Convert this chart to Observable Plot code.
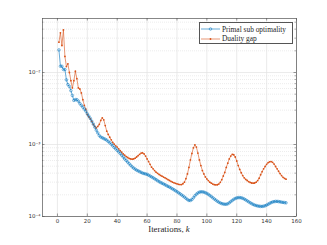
<!DOCTYPE html>
<html>
<head>
<meta charset="utf-8">
<script src="https://cdn.jsdelivr.net/npm/d3@7"></script>
<script src="https://cdn.jsdelivr.net/npm/@observablehq/plot@0.6"></script>
<style>
  body { margin: 0; background: white; }
  #wrap { position: relative; width: 327px; height: 245px; overflow: hidden; }
  #legend { position: absolute; left: 199px; top: 22px; width: 94px; height: 22px; background: white;
            border: 0.6px solid #555; box-sizing: border-box; font-family: "Liberation Serif", "DejaVu Serif", serif;
            font-size: 7.4px; color: #262626; }
  .row { position: absolute; left: 1px; height: 8px; display: flex; align-items: center; white-space: nowrap; }
  .row svg { display: block; margin-right: 2px; }
  #xlabel { position: absolute; left: 0; width: 338px; top: 224px; text-align: center;
            font-family: "Liberation Serif", "DejaVu Serif", serif; font-size: 8.8px; color: #262626; }
</style>
</head>
<body>
<div id="wrap">
  <div id="chart"></div>
  <div id="legend">
    <div class="row" style="top:2px"><svg width="19" height="8"><line x1="0" y1="4" x2="19" y2="4" stroke="#0072BD" stroke-width="0.6"/><circle cx="9.5" cy="4" r="1.3" fill="none" stroke="#0072BD" stroke-width="0.5"/></svg><span>Primal sub optimality</span></div>
    <div class="row" style="top:11.5px"><svg width="19" height="8"><line x1="0" y1="4" x2="19" y2="4" stroke="#D95319" stroke-width="0.6"/><circle cx="9.5" cy="4" r="0.9" fill="#D95319"/></svg><span>Duality gap</span></div>
  </div>
  <div id="xlabel">Iterations, <i>k</i></div>
</div>
<script>
// Values in units of 1e-4, for iterations k = 1..153
const primalE4 = [
  206,122,122,110,110,79,68,64,56,48,
  41,42,42,40,37,35,33,31,29,26.7,
  24.8,23,21,19.2,17.4,15.8,14.5,13.3,12.7,12.4,
  12.1,11.8,11.5,11.0,10.6,10.1,9.6,9.1,8.7,8.3,
  7.9,7.5,7.1,6.7,6.3,6.0,5.7,5.4,5.15,4.9,
  4.7,4.55,4.4,4.3,4.2,4.1,4.0,3.95,3.9,3.85,
  3.75,3.65,3.55,3.45,3.35,3.25,3.15,3.05,2.97,2.9,
  2.83,2.76,2.69,2.62,2.56,2.49,2.42,2.35,2.28,2.21,
  2.14,2.07,2.0,1.93,1.86,1.79,1.72,1.67,1.67,1.72,
  1.82,1.94,2.04,2.12,2.18,2.2,2.2,2.18,2.14,2.09,
  2.03,1.96,1.89,1.82,1.75,1.69,1.63,1.58,1.54,1.51,
  1.49,1.48,1.48,1.5,1.55,1.61,1.67,1.73,1.78,1.81,
  1.83,1.83,1.82,1.79,1.75,1.7,1.65,1.6,1.55,1.51,
  1.47,1.44,1.42,1.4,1.39,1.38,1.38,1.39,1.41,1.44,
  1.48,1.52,1.56,1.59,1.61,1.62,1.62,1.61,1.6,1.58,
  1.57,1.56,1.55
];
const gapE4 = [
  264,356,237,390,167,121,132,100,77,61,
  77,104,82,61,59,52,42,35,31,26,
  24.2,22.7,21,19,17.8,17,17.8,19,21.6,23.4,
  22,18.3,15.3,13.8,12.6,11.6,10.7,10.1,9.6,9.2,
  8.7,8.2,7.8,7.4,7.1,6.8,6.6,6.4,6.3,6.25,
  6.3,6.45,6.7,7.0,7.3,7.6,7.65,7.4,6.9,6.3,
  5.8,5.3,4.84,4.6,4.35,4.13,3.98,3.84,3.72,3.63,
  3.53,3.44,3.35,3.25,3.16,3.08,3.0,2.94,2.89,2.84,
  2.8,2.78,2.78,2.85,3.0,3.35,3.9,4.8,6.1,7.5,
  9.0,9.9,9.2,7.6,6.1,5.1,4.35,3.9,3.55,3.33,
  3.15,3.0,2.9,2.82,2.77,2.75,2.76,2.82,2.98,3.25,
  3.65,4.1,4.8,5.5,6.3,6.9,7.3,7.2,6.7,5.9,
  5.1,4.5,4.05,3.7,3.45,3.27,3.16,3.05,2.97,2.92,
  2.9,2.92,3.0,3.15,3.4,3.8,4.2,4.6,4.95,5.3,
  5.6,5.75,5.8,5.65,5.35,4.95,4.6,4.25,3.95,3.7,
  3.5,3.38,3.3
];
const xTicks = [0, 20, 40, 60, 80, 100, 120, 140, 160];
const yMajor = [1e-4, 1e-3, 1e-2];
const yTickLabels = ["10\u207B\u2074", "10\u207B\u00B3", "10\u207B\u00B2"];
const yMinor = [2e-4,3e-4,4e-4,5e-4,6e-4,7e-4,8e-4,9e-4,
                2e-3,3e-3,4e-3,5e-3,6e-3,7e-3,8e-3,9e-3,
                2e-2,3e-2,4e-2,5e-2];

const primal = primalE4.map((v, i) => ({k: i + 1, v: v * 1e-4}));
const gap = gapE4.map((v, i) => ({k: i + 1, v: v * 1e-4}));

const W = 327, H = 245, mL = 42, mR = 31, mT = 18, mB = 29;
const fw = W - mL - mR, fh = H - mT - mB;
const axisColor = "#555";

const chart = Plot.plot({
  width: W, height: H,
  marginLeft: mL, marginRight: mR, marginTop: mT, marginBottom: mB,
  style: {fontFamily: "DejaVu Sans, sans-serif", fontSize: "5.5px", color: "#333", background: "white"},
  x: {domain: [-10, 160]},
  y: {type: "log", domain: [1e-4, Math.pow(10, -1.25)]},
  marks: [
    Plot.gridY(yMinor, {stroke: "#d6d6d6", strokeOpacity: 1, strokeWidth: 0.6, strokeDasharray: "0.8,1.2"}),
    Plot.gridX(xTicks, {stroke: "#e3e3e3", strokeOpacity: 1, strokeWidth: 0.7}),
    Plot.gridY(yMajor, {stroke: "#e3e3e3", strokeOpacity: 1, strokeWidth: 0.7}),
    Plot.line(gap, {x: "k", y: "v", stroke: "#D95319", strokeWidth: 0.6}),
    Plot.dot(gap, {x: "k", y: "v", r: 0.9, fill: "#D95319", stroke: "none"}),
    Plot.line(primal, {x: "k", y: "v", stroke: "#0072BD", strokeWidth: 0.6}),
    Plot.dot(primal, {x: "k", y: "v", r: 1.3, fill: "none", stroke: "#0072BD", strokeWidth: 0.5}),
    Plot.frame({stroke: axisColor, strokeWidth: 0.7}),
    Plot.tickX(xTicks, {x: d => d, insetTop: fh - 2.5, stroke: axisColor, strokeWidth: 0.6}),
    Plot.tickX(xTicks, {x: d => d, insetBottom: fh - 2.5, stroke: axisColor, strokeWidth: 0.6}),
    Plot.tickY(yMajor, {y: d => d, insetRight: fw - 2.5, stroke: axisColor, strokeWidth: 0.6}),
    Plot.tickY(yMajor, {y: d => d, insetLeft: fw - 2.5, stroke: axisColor, strokeWidth: 0.6}),
    Plot.tickY(yMinor, {y: d => d, insetRight: fw - 1.4, stroke: axisColor, strokeWidth: 0.5}),
    Plot.tickY(yMinor, {y: d => d, insetLeft: fw - 1.4, stroke: axisColor, strokeWidth: 0.5}),
    Plot.axisX(xTicks, {tickSize: 0, tickPadding: 3, label: null}),
    Plot.axisY(yMajor, {tickSize: 0, tickPadding: 2, label: null,
      tickFormat: d => yTickLabels[yMajor.indexOf(d)]})
  ]
});
document.getElementById("chart").appendChild(chart);
</script>
</body>
</html>
